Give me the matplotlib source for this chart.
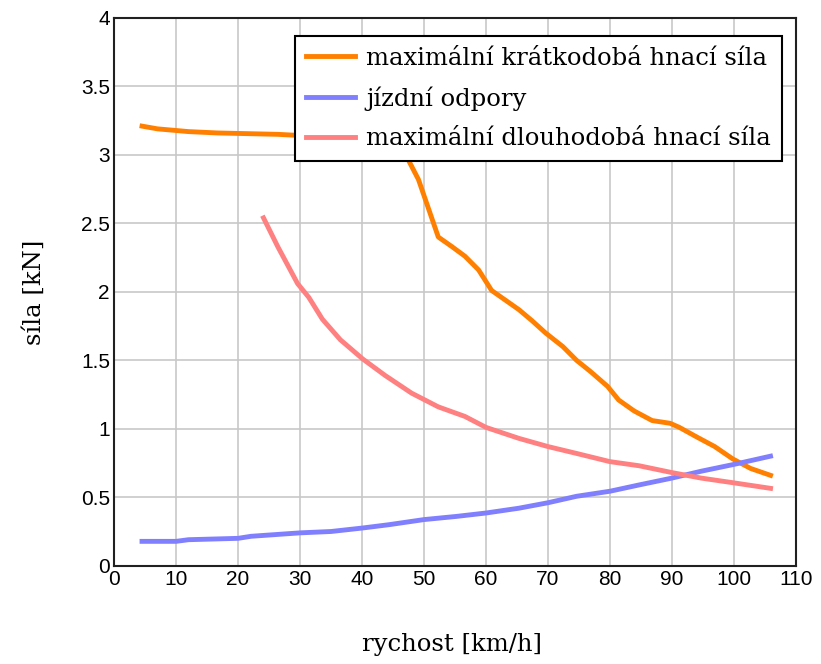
import matplotlib.pyplot as plt

# maximální krátkodobá hnací síla
v_short = [4.5, 7, 12, 16.7, 26.4, 30.7, 40, 45, 46.5, 47.5, 49.1, 52.3, 54.5, 56.6, 58.8,
           60.9, 63.1, 65.3, 67.4, 69.6, 72.4, 74.6, 76.8, 79.6, 81.4, 83.9, 86.8, 89.7,
           91.2, 94.0, 96.9, 99.8, 102.7, 105.9]
f_short = [3.21, 3.19, 3.17, 3.16, 3.15, 3.14, 3.13, 3.12, 3.06, 2.96, 2.82, 2.40, 2.33, 2.26,
           2.16, 2.01, 1.94, 1.87, 1.79, 1.70, 1.60, 1.50, 1.42, 1.31, 1.21, 1.13, 1.06, 1.04,
           1.01, 0.94, 0.87, 0.78, 0.71, 0.66]

# jízdní odpory
v_res = [4.5, 10, 12, 20, 22.1, 30, 35, 40, 44.4, 50, 55.2, 60, 65.3, 70, 74.6, 80, 84.7,
         90, 94.7, 100, 105.9]
f_res = [0.178, 0.178, 0.19, 0.2, 0.215, 0.24, 0.25, 0.275, 0.30, 0.337, 0.36, 0.385, 0.42,
         0.46, 0.507, 0.544, 0.59, 0.64, 0.69, 0.74, 0.80]

# maximální dlouhodobá hnací síla
v_long = [24.1, 26.4, 29.6, 31.4, 33.6, 36.5, 40.1, 43.7, 48.0, 52.3, 56.6, 60, 65.3, 70,
          74.6, 80, 84.7, 90, 94.7, 100, 105.9]
f_long = [2.54, 2.33, 2.06, 1.96, 1.80, 1.65, 1.51, 1.39, 1.26, 1.16, 1.09, 1.01, 0.93,
          0.87, 0.82, 0.76, 0.73, 0.68, 0.64, 0.605, 0.565]

labels = ['maximální krátkodobá hnací síla', 'jízdní odpory', 'maximální dlouhodobá hnací síla']

fig = plt.figure(figsize=(8.21, 6.64), dpi=100)
ax = fig.add_axes([0.139, 0.148, 0.8305, 0.825])

ax.plot(v_short, f_short, color='#FF8000', lw=3.5, label=labels[0])
ax.plot(v_res, f_res, color='#8080FF', lw=3.5, label=labels[1])
ax.plot(v_long, f_long, color='#FF8080', lw=3.5, label=labels[2])

ax.set_xlim(0, 110)
ax.set_ylim(0, 4)
ax.set_xticks(range(0, 111, 10))
ax.set_yticks([0, 0.5, 1, 1.5, 2, 2.5, 3, 3.5, 4])
ax.set_yticklabels(['0', '0.5', '1', '1.5', '2', '2.5', '3', '3.5', '4'])
ax.grid(True, color='#C8C8C8', lw=1.2)
ax.set_axisbelow(True)
ax.tick_params(length=0, labelsize=15, pad=3)
for lab in ax.get_xticklabels() + ax.get_yticklabels():
    lab.set_family('Liberation Sans')
for s in ax.spines.values():
    s.set_linewidth(1.5)
    s.set_color('#202020')

ax.set_xlabel('rychost [km/h]', family='DejaVu Serif', fontsize=17.5)
ax.set_ylabel('síla [kN]', family='DejaVu Serif', fontsize=17.5)
ax.xaxis.set_label_coords(0.495, -0.122)
ax.yaxis.set_label_coords(-0.100, 0.5)

leg = ax.legend(loc='upper right', bbox_to_anchor=(0.979, 0.967),
                prop={'family': 'DejaVu Serif', 'size': 17.5},
                fancybox=False, framealpha=1, edgecolor='black', borderpad=0.45,
                handlelength=2.0, handletextpad=0.45, labelspacing=0.68, borderaxespad=0)
leg.get_frame().set_linewidth(1.5)

fig.savefig('out.png', dpi=100)
